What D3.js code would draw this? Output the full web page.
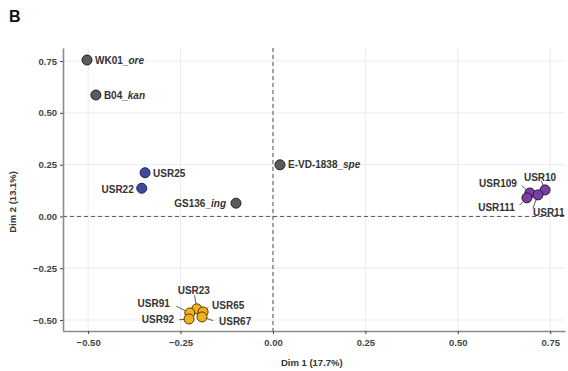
<!DOCTYPE html>
<html>
<head>
<meta charset="utf-8">
<script src="https://cdn.jsdelivr.net/npm/d3@7"></script>
<style>
  html, body { margin: 0; padding: 0; background: #fff; }
  svg { display: block; font-family: "Liberation Sans", Arial, sans-serif; }
</style>
</head>
<body>
<svg id="chart" width="568" height="371"></svg>
<script>
// MCA sample coordinates (Dim 1, Dim 2)
const sampleNames = ["WK01_ore", "B04_kan", "USR25", "USR22", "GS136_ing", "E-VD-1838_spe",
  "USR10", "USR109", "USR111", "USR11",
  "USR23", "USR91", "USR65", "USR92", "USR67"];
const dim1 = [-0.503, -0.479, -0.346, -0.355, -0.100, 0.019,
  0.736, 0.695, 0.687, 0.717,
  -0.206, -0.225, -0.189, -0.227, -0.192];
const dim2 = [0.755, 0.586, 0.211, 0.136, 0.064, 0.249,
  0.128, 0.113, 0.090, 0.104,
  -0.446, -0.466, -0.461, -0.495, -0.485];
const groups = ["ref", "ref", "g1", "g1", "ref", "ref",
  "g2", "g2", "g2", "g2",
  "g3", "g3", "g3", "g3", "g3"];
const xTicks = [-0.50, -0.25, 0.00, 0.25, 0.50, 0.75];
const yTicks = [-0.50, -0.25, 0.00, 0.25, 0.50, 0.75];

// label placement (pixel offset of label anchor from its point, text anchor, leader line)
const labelLayout = [
  [8, 0, "start", false], [8, 0, "start", false], [8, 1, "start", false], [-8, 1, "end", false],
  [-10, 0, "end", false], [8, 0, "start", false],
  [-5, -12, "middle", true], [-11, -10, "end", true], [-10, 10, "end", true], [-7, 18, "start", true],
  [-3, -18, "middle", true], [-18, -9, "end", true], [7, -6, "start", true], [-13, 1, "end", true], [15, 5, "start", true]
];

const fills = { ref: "#5b5b5b", g1: "#3d4a9b", g2: "#7b3fa3", g3: "#f2b21d" };
const strokes = { ref: "#222", g1: "#1c2250", g2: "#2c1440", g3: "#5a3a00" };

const svg = d3.select("#chart");
const margin = { left: 63, right: 3, top: 48, bottom: 40 };
const W = 568, H = 371;

const x = d3.scaleLinear().domain([-0.568, 0.79]).range([margin.left, W - margin.right]);
const y = d3.scaleLinear().domain([-0.553, 0.813]).range([H - margin.bottom, margin.top]);

// panel letter
svg.append("text").attr("x", 9).attr("y", 22).attr("font-size", 16).attr("font-weight", "bold")
  .attr("fill", "#111").text("B");

// grid
const grid = svg.append("g");
grid.selectAll(".gx").data(xTicks).join("line")
  .attr("x1", d => x(d)).attr("x2", d => x(d)).attr("y1", margin.top).attr("y2", H - margin.bottom)
  .attr("stroke", "#ececec").attr("stroke-width", 1);
grid.selectAll(".gy").data(yTicks).join("line")
  .attr("y1", d => y(d)).attr("y2", d => y(d)).attr("x1", margin.left).attr("x2", W - margin.right)
  .attr("stroke", "#ececec").attr("stroke-width", 1);

// zero reference lines
svg.append("line").attr("x1", x(0)).attr("x2", x(0)).attr("y1", margin.top).attr("y2", H - margin.bottom)
  .attr("stroke", "#555").attr("stroke-width", 1).attr("stroke-dasharray", "4,3");
svg.append("line").attr("y1", y(0)).attr("y2", y(0)).attr("x1", margin.left).attr("x2", W - margin.right)
  .attr("stroke", "#555").attr("stroke-width", 1).attr("stroke-dasharray", "4,3");

// axes
const xAxis = svg.append("g").attr("transform", `translate(0,${H - margin.bottom})`)
  .call(d3.axisBottom(x).tickValues(xTicks).tickFormat(d3.format(".2f")).tickSize(3).tickSizeOuter(0));
const yAxis = svg.append("g").attr("transform", `translate(${margin.left},0)`)
  .call(d3.axisLeft(y).tickValues(yTicks).tickFormat(d3.format(".2f")).tickSize(3).tickSizeOuter(0));
[xAxis, yAxis].forEach(a => {
  a.select(".domain").attr("stroke", "#8a8a8a").attr("stroke-width", 1.6);
  a.selectAll(".tick line").attr("stroke", "#444");
  a.selectAll(".tick text").attr("font-size", 9.5).attr("font-weight", "bold").attr("fill", "#444")
    .attr("font-family", "Liberation Sans, Arial, sans-serif").text(function(d){ return d3.format(".2f")(d).replace("-", "\u2212"); });
});
xAxis.selectAll(".tick text").attr("dy", "0.9em");

svg.append("text").attr("x", x(0.105)).attr("y", 366).attr("text-anchor", "middle")
  .attr("font-size", 9.5).attr("font-weight", "bold").attr("fill", "#333").text("Dim 1 (17.7%)");
svg.append("text").attr("transform", `translate(16,${y(0.07)}) rotate(-90)`).attr("text-anchor", "middle")
  .attr("font-size", 9.5).attr("font-weight", "bold").attr("fill", "#333").text("Dim 2 (13.1%)");

const data = sampleNames.map((n, i) => ({ name: n, x: dim1[i], y: dim2[i], g: groups[i], lay: labelLayout[i] }));

// leader lines
svg.append("g").selectAll("line").data(data.filter(d => d.lay[3])).join("line")
  .attr("x1", d => x(d.x)).attr("y1", d => y(d.y))
  .attr("x2", d => x(d.x) + d.lay[0] * 0.75).attr("y2", d => y(d.y) + d.lay[1] * 0.75)
  .attr("stroke", "#333").attr("stroke-width", 0.8);

// points
svg.append("g").selectAll("circle").data(data).join("circle")
  .attr("cx", d => x(d.x)).attr("cy", d => y(d.y)).attr("r", 5)
  .attr("fill", d => fills[d.g]).attr("stroke", d => strokes[d.g]).attr("stroke-width", 1);

// labels with italic species suffix
const labels = svg.append("g").selectAll("text").data(data).join("text")
  .attr("x", d => x(d.x) + d.lay[0] + (d.lay[3] ? (d.lay[2] === "start" ? 2 : d.lay[2] === "end" ? -2 : 0) : 0))
  .attr("y", d => y(d.y) + d.lay[1]).attr("dy", "0.35em")
  .attr("text-anchor", d => d.lay[2])
  .attr("font-size", 10).attr("font-weight", "bold").attr("fill", "#333");
labels.each(function(d) {
  const t = d3.select(this);
  const k = d.name.lastIndexOf("_");
  if (k > 0 && /[a-z]/.test(d.name.slice(k + 1))) {
    t.append("tspan").text(d.name.slice(0, k + 1));
    t.append("tspan").attr("font-style", "italic").text(d.name.slice(k + 1));
  } else {
    t.text(d.name);
  }
});
</script>
</body>
</html>
